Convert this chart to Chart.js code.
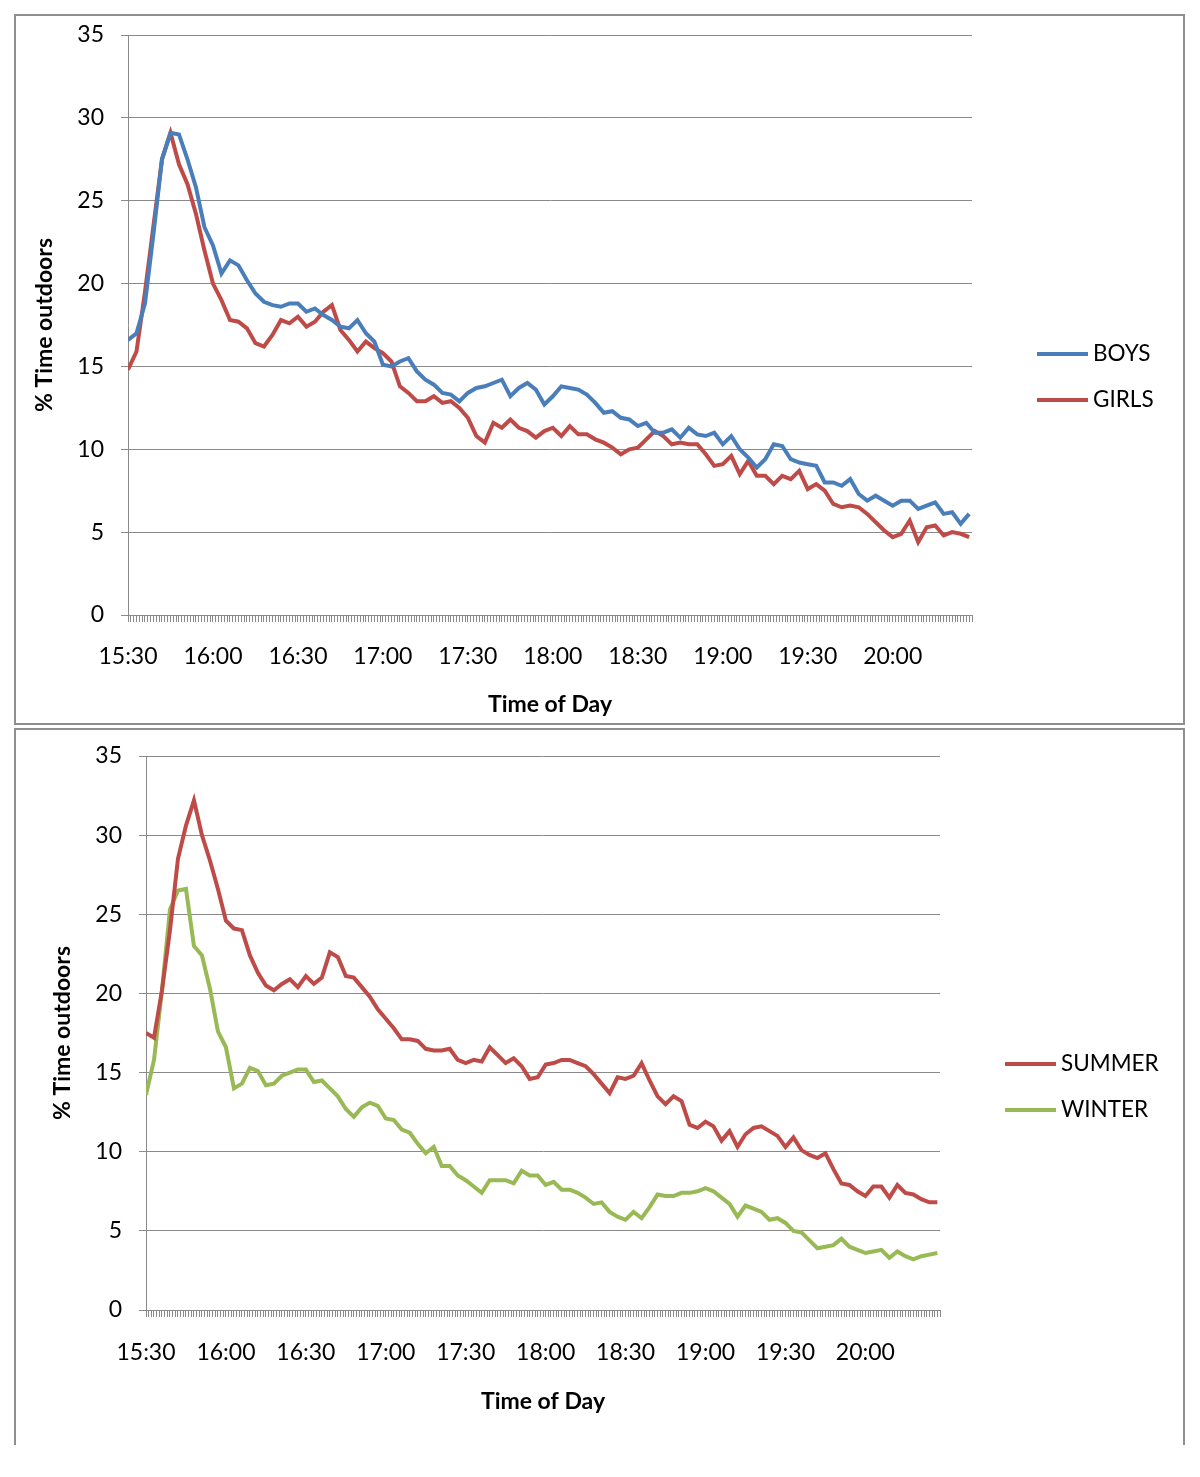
<!DOCTYPE html>
<html>
<head>
<meta charset="utf-8">
<script src="https://cdn.jsdelivr.net/npm/chart.js@4.4.1/dist/chart.umd.min.js"></script>
<style>
    body { margin: 0; background: #fff; width: 1200px; height: 1477px; position: relative; }
    .panel { position: absolute; left: 14px; width: 1167px; border: 2px solid #8e8e8e; }
    #topPanel { top: 14px; height: 707px; }
    #bottomPanel { top: 728px; height: 715px; border-bottom: none; }
</style>
</head>
<body>
<div class="panel" id="topPanel"><canvas id="chartGender"></canvas></div>
<div class="panel" id="bottomPanel"><canvas id="chartSeason"></canvas></div>
<script>
// one value every 3 minutes, starting 15:30
const STEP_MIN = 3;
const timeLabels = ['15:30', '16:00', '16:30', '17:00', '17:30', '18:00', '18:30', '19:00', '19:30', '20:00'];
const yTicks = [0, 5, 10, 15, 20, 25, 30, 35];

const boys = [
    16.6, 17.0, 18.8, 23.0, 27.5, 29.1, 29.0, 27.5, 25.8, 23.4,
    22.3, 20.6, 21.4, 21.1, 20.2, 19.4, 18.9, 18.7, 18.6, 18.8,
    18.8, 18.3, 18.5, 18.1, 17.8, 17.4, 17.3, 17.8, 17.0, 16.5,
    15.1, 15.0, 15.3, 15.5, 14.7, 14.2, 13.9, 13.4, 13.3, 12.9,
    13.4, 13.7, 13.8, 14.0, 14.2, 13.2, 13.7, 14.0, 13.6, 12.7,
    13.2, 13.8, 13.7, 13.6, 13.3, 12.8, 12.2, 12.3, 11.9, 11.8,
    11.4, 11.6, 11.0, 11.0, 11.2, 10.7, 11.3, 10.9, 10.8, 11.0,
    10.3, 10.8, 10.0, 9.5, 8.9, 9.4, 10.3, 10.2, 9.4, 9.2,
    9.1, 9.0, 8.0, 8.0, 7.8, 8.2, 7.3, 6.9, 7.2, 6.9,
    6.6, 6.9, 6.9, 6.4, 6.6, 6.8, 6.1, 6.2, 5.5, 6.1
];
const girls = [
    14.8, 15.9, 19.5, 23.5, 27.5, 29.1, 27.2, 26.0, 24.2, 22.0,
    20.0, 19.0, 17.8, 17.7, 17.3, 16.4, 16.2, 16.9, 17.8, 17.6,
    18.0, 17.4, 17.7, 18.3, 18.7, 17.2, 16.6, 15.9, 16.5, 16.1,
    15.8, 15.3, 13.8, 13.4, 12.9, 12.9, 13.2, 12.8, 12.9, 12.5,
    11.9, 10.8, 10.4, 11.6, 11.3, 11.8, 11.3, 11.1, 10.7, 11.1,
    11.3, 10.8, 11.4, 10.9, 10.9, 10.6, 10.4, 10.1, 9.7, 10.0,
    10.1, 10.6, 11.1, 10.8, 10.3, 10.4, 10.3, 10.3, 9.7, 9.0,
    9.1, 9.6, 8.5, 9.3, 8.4, 8.4, 7.9, 8.4, 8.2, 8.7,
    7.6, 7.9, 7.5, 6.7, 6.5, 6.6, 6.5, 6.1, 5.6, 5.1,
    4.7, 4.9, 5.7, 4.4, 5.3, 5.4, 4.8, 5.0, 4.9, 4.7
];
const summer = [
    17.5, 17.2, 20.2, 24.0, 28.5, 30.6, 32.2, 30.0, 28.4, 26.6,
    24.6, 24.1, 24.0, 22.4, 21.3, 20.5, 20.2, 20.6, 20.9, 20.4,
    21.1, 20.6, 21.0, 22.6, 22.3, 21.1, 21.0, 20.4, 19.8, 19.0,
    18.4, 17.8, 17.1, 17.1, 17.0, 16.5, 16.4, 16.4, 16.5, 15.8,
    15.6, 15.8, 15.7, 16.6, 16.1, 15.6, 15.9, 15.4, 14.6, 14.7,
    15.5, 15.6, 15.8, 15.8, 15.6, 15.4, 14.9, 14.3, 13.7, 14.7,
    14.6, 14.8, 15.6, 14.5, 13.5, 13.0, 13.5, 13.2, 11.7, 11.5,
    11.9, 11.6, 10.7, 11.3, 10.3, 11.1, 11.5, 11.6, 11.3, 11.0,
    10.3, 10.9, 10.1, 9.8, 9.6, 9.9, 8.9, 8.0, 7.9, 7.5,
    7.2, 7.8, 7.8, 7.1, 7.9, 7.4, 7.3, 7.0, 6.8, 6.8
];
const winter = [
    13.6, 15.8, 20.2, 25.3, 26.5, 26.6, 23.0, 22.4, 20.3, 17.6,
    16.6, 14.0, 14.3, 15.3, 15.1, 14.2, 14.3, 14.8, 15.0, 15.2,
    15.2, 14.4, 14.5, 14.0, 13.5, 12.7, 12.2, 12.8, 13.1, 12.9,
    12.1, 12.0, 11.4, 11.2, 10.5, 9.9, 10.3, 9.1, 9.1, 8.5,
    8.2, 7.8, 7.4, 8.2, 8.2, 8.2, 8.0, 8.8, 8.5, 8.5,
    7.9, 8.1, 7.6, 7.6, 7.4, 7.1, 6.7, 6.8, 6.2, 5.9,
    5.7, 6.2, 5.8, 6.5, 7.3, 7.2, 7.2, 7.4, 7.4, 7.5,
    7.7, 7.5, 7.1, 6.7, 5.9, 6.6, 6.4, 6.2, 5.7, 5.8,
    5.5, 5.0, 4.9, 4.4, 3.9, 4.0, 4.1, 4.5, 4.0, 3.8,
    3.6, 3.7, 3.8, 3.3, 3.7, 3.4, 3.2, 3.4, 3.5, 3.6
];

const FONT = 'Lato, "Open Sans", sans-serif';
const GRID = '#8a8a8a';

// legend drawn as a short line + label at the right of the plot
const lineLegend = {
    id: 'lineLegend',
    afterDraw(chart, args, opts) {
        const {ctx, chartArea} = chart;
        ctx.save();
        ctx.font = '22.5px ' + FONT;
        ctx.textBaseline = 'middle';
        chart.data.datasets.forEach((ds, i) => {
            const x = chartArea.right + opts.offset;
            const y = opts.top + i * opts.gap;
            ctx.strokeStyle = ds.borderColor;
            ctx.lineWidth = 4;
            ctx.beginPath();
            ctx.moveTo(x, y);
            ctx.lineTo(x + 51, y);
            ctx.stroke();
            ctx.fillStyle = '#000';
            ctx.fillText(ds.label, x + 56, y);
        });
        ctx.restore();
    }
};

function toPoints(values) {
    return values.map((v, i) => ({x: i * STEP_MIN, y: v}));
}

function makeChart(id, series, lay) {
    const ctx = document.getElementById(id).getContext('2d');
    return new Chart(ctx, {
        type: 'line',
        data: {
            datasets: series.map(s => ({
                label: s.label,
                data: toPoints(s.values),
                borderColor: s.color,
                backgroundColor: s.color,
                borderWidth: 4,
                pointRadius: 0,
                tension: 0
            }))
        },
        options: {
            responsive: true,
            maintainAspectRatio: false,
            animation: false,
            events: [],
            layout: {padding: {top: lay.padTop, right: lay.padRight, bottom: lay.padBottom, left: 0}},
            plugins: {
                legend: {display: false},
                tooltip: {enabled: false},
                lineLegend: {offset: 65, top: lay.legendTop, gap: 46}
            },
            scales: {
                x: {
                    type: 'linear',
                    min: 0,
                    max: 298,
                    afterFit: (s) => { s.height = lay.xHeight; },
                    grid: {drawOnChartArea: false, color: GRID, tickLength: 7},
                    border: {color: GRID},
                    ticks: {
                        stepSize: 1,
                        autoSkip: false,
                        maxRotation: 0,
                        padding: lay.xPad,
                        color: '#000',
                        font: {family: FONT, size: 23},
                        callback: (v) => (v % 30 === 0 && timeLabels[v / 30]) ? timeLabels[v / 30] : ''
                    },
                    title: {
                        display: true,
                        text: 'Time of Day',
                        color: '#000',
                        font: {family: FONT, size: 23, weight: 'bold'},
                        padding: {top: 0, bottom: 0}
                    }
                },
                y: {
                    min: 0,
                    max: 35,
                    afterFit: (s) => {
                        s.width = lay.yWidth;
                        s.paddingTop = 8;
                        s.paddingBottom = 8;
                    },
                    afterBuildTicks: (s) => { s.ticks = yTicks.map(v => ({value: v})); },
                    grid: {color: GRID, tickLength: 7},
                    border: {color: GRID},
                    ticks: {
                        padding: 17,
                        color: '#000',
                        font: {family: FONT, size: 23}
                    },
                    title: {
                        display: true,
                        text: '% Time outdoors',
                        color: '#000',
                        font: {family: FONT, size: 23, weight: 'bold'},
                        padding: {top: lay.titlePad, bottom: 0}
                    }
                }
            }
        },
        plugins: [lineLegend]
    });
}

makeChart('chartGender', [
    {label: 'BOYS', values: boys, color: '#4a7ebb'},
    {label: 'GIRLS', values: girls, color: '#be4b48'}
], {padTop: 19, padRight: 211, padBottom: 5, xHeight: 103, xPad: 21, yWidth: 112, titlePad: 15, legendTop: 338});

makeChart('chartSeason', [
    {label: 'SUMMER', values: summer, color: '#be4b48'},
    {label: 'WINTER', values: winter, color: '#98b954'}
], {padTop: 26, padRight: 243, padBottom: 30, xHeight: 105, xPad: 22, yWidth: 130, titlePad: 33, legendTop: 334});
</script>
</body>
</html>
